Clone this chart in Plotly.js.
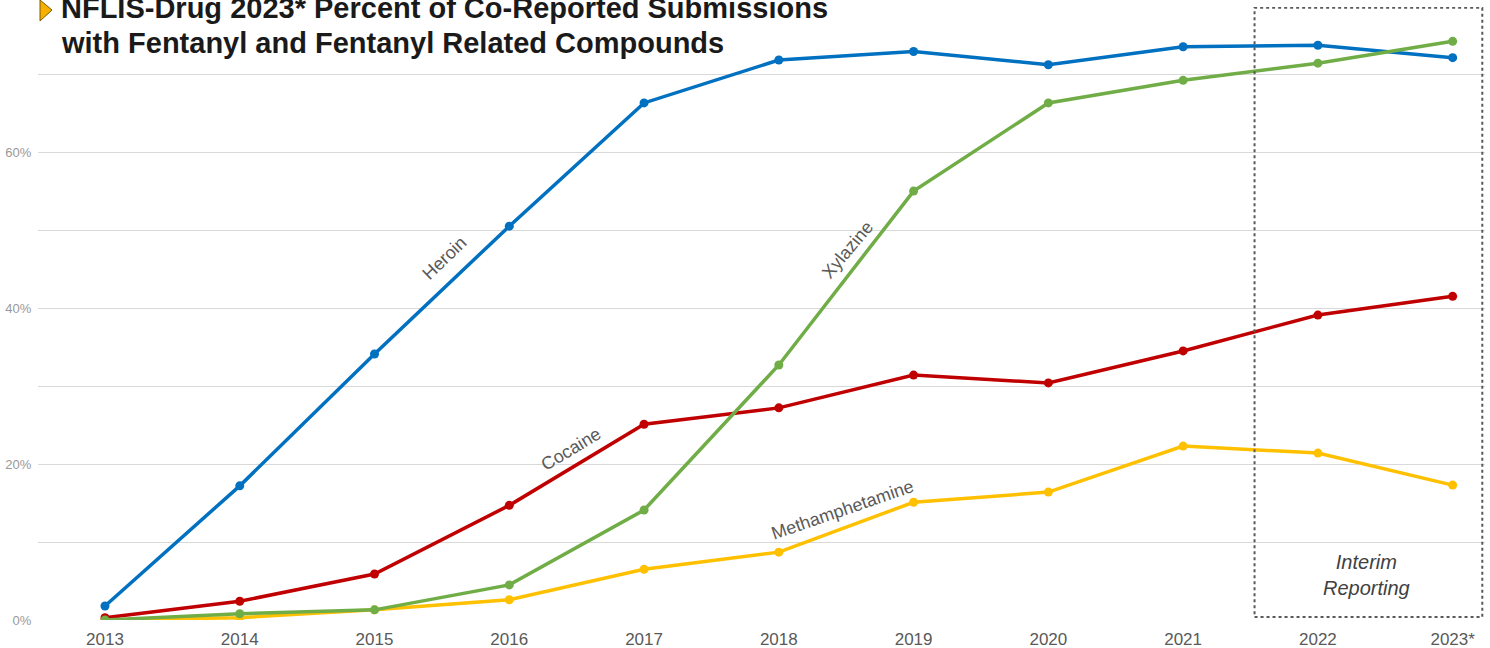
<!DOCTYPE html>
<html>
<head>
<meta charset="utf-8">
<script src="https://cdn.plot.ly/plotly-3.0.1.min.js"></script>
<style>html,body{margin:0;padding:0;background:#fff;}#chart{width:1490px;height:648px;}</style>
</head>
<body>
<div id="chart"></div>
<script>
// ---- data ----
const years = ['2013','2014','2015','2016','2017','2018','2019','2020','2021','2022','2023*'];
const heroin = [1.8, 17.2, 34.1, 50.5, 66.3, 71.8, 72.9, 71.2, 73.5, 73.7, 72.1];
const cocaine = [0.3, 2.4, 5.9, 14.7, 25.1, 27.2, 31.4, 30.4, 34.5, 39.1, 41.5];
const xylazine = [0.0, 0.8, 1.3, 4.5, 14.1, 32.7, 55.0, 66.3, 69.2, 71.4, 74.2];
const meth = [0.0, 0.3, 1.3, 2.6, 6.5, 8.7, 15.1, 16.4, 22.3, 21.4, 17.3];
const yTicks = [0, 20, 40, 60];
const yTickText = ['0%', '20%', '40%', '60%'];
const titleLine1 = 'NFLIS-Drug 2023* Percent of Co-Reported Submissions';
const titleLine2 = 'with Fentanyl and Fentanyl Related Compounds';

const idx = years.map((_, i) => i);
const FONT = 'Liberation Sans, Arial, Helvetica, sans-serif';

function series(name, y, color) {
  return {
    type: 'scatter', mode: 'lines+markers', name: name,
    x: idx, y: y,
    line: {color: color, width: 3.5},
    marker: {color: color, size: 9},
    hoverinfo: 'skip'
  };
}

const data = [
  series('Methamphetamine', meth, '#FFC000'),
  series('Cocaine', cocaine, '#C00000'),
  series('Heroin', heroin, '#0070C0'),
  series('Xylazine', xylazine, '#70AD47')
];

const labelFont = {family: FONT, size: 18, color: '#595959'};

const layout = {
  width: 1490, height: 648,
  margin: {l: 38, r: 5, t: 7, b: 28},
  paper_bgcolor: '#ffffff', plot_bgcolor: '#ffffff',
  showlegend: false,
  font: {family: FONT},
  xaxis: {
    type: 'linear',
    range: [-0.497, 10.24],
    tickmode: 'array', tickvals: idx, ticktext: years,
    showgrid: false, zeroline: false, showline: false,
    ticks: 'outside', ticklen: 4, tickcolor: 'rgba(0,0,0,0)',
    tickfont: {family: FONT, size: 17, color: '#595959'},
    automargin: false
  },
  yaxis: {
    range: [0, 78.6],
    tickmode: 'array', tickvals: yTicks, ticktext: yTickText,
    showgrid: true, gridcolor: '#d9d9d9', gridwidth: 1,
    zeroline: false, showline: false,
    ticks: 'outside', ticklen: 3, tickcolor: 'rgba(0,0,0,0)',
    minor: {tick0: 0, dtick: 10, showgrid: true, gridcolor: '#d9d9d9', gridwidth: 1},
    tickfont: {family: FONT, size: 13, color: '#999999'},
    automargin: false
  },
  shapes: [
    {type: 'rect', xref: 'x', yref: 'y', x0: 8.53, x1: 10.22, y0: 0.4, y1: 78.5,
     line: {color: '#595959', width: 2, dash: 'dot'}, fillcolor: 'rgba(0,0,0,0)', layer: 'above'},
    {type: 'path', xref: 'paper', yref: 'paper',
     path: 'M 0.0014,1.0114 L 0.0097,0.9951 L 0.0014,0.9772 Z',
     fillcolor: '#F5B000', line: {color: '#7a5a00', width: 1}}
  ],
  annotations: [
    {xref: 'paper', yref: 'paper', x: 0.0145, y: 0.9984, xanchor: 'left', yanchor: 'middle',
     text: '<b>' + titleLine1 + '</b>', showarrow: false,
     font: {family: FONT, size: 29, color: '#1a1a1a'}},
    {xref: 'paper', yref: 'paper', x: 0.0145, y: 0.9413, xanchor: 'left', yanchor: 'middle',
     text: '<b>' + titleLine2 + '</b>', showarrow: false,
     font: {family: FONT, size: 29, color: '#1a1a1a'}},
    {xref: 'x', yref: 'y', x: 2.52, y: 46.4, text: 'Heroin', textangle: -44, showarrow: false, font: labelFont},
    {xref: 'x', yref: 'y', x: 3.46, y: 21.9, text: 'Cocaine', textangle: -31, showarrow: false, font: labelFont},
    {xref: 'x', yref: 'y', x: 5.51, y: 47.4, text: 'Xylazine', textangle: -50, showarrow: false, font: labelFont},
    {xref: 'x', yref: 'y', x: 5.47, y: 14.1, text: 'Methamphetamine', textangle: -19, showarrow: false, font: labelFont},
    {xref: 'x', yref: 'y', x: 9.36, y: 5.83, text: '<i>Interim<br>Reporting</i>', showarrow: false,
     align: 'center', font: {family: FONT, size: 20, color: '#404040'}}
  ]
};

Plotly.newPlot('chart', data, layout, {displayModeBar: false, staticPlot: true});
</script>
</body>
</html>
